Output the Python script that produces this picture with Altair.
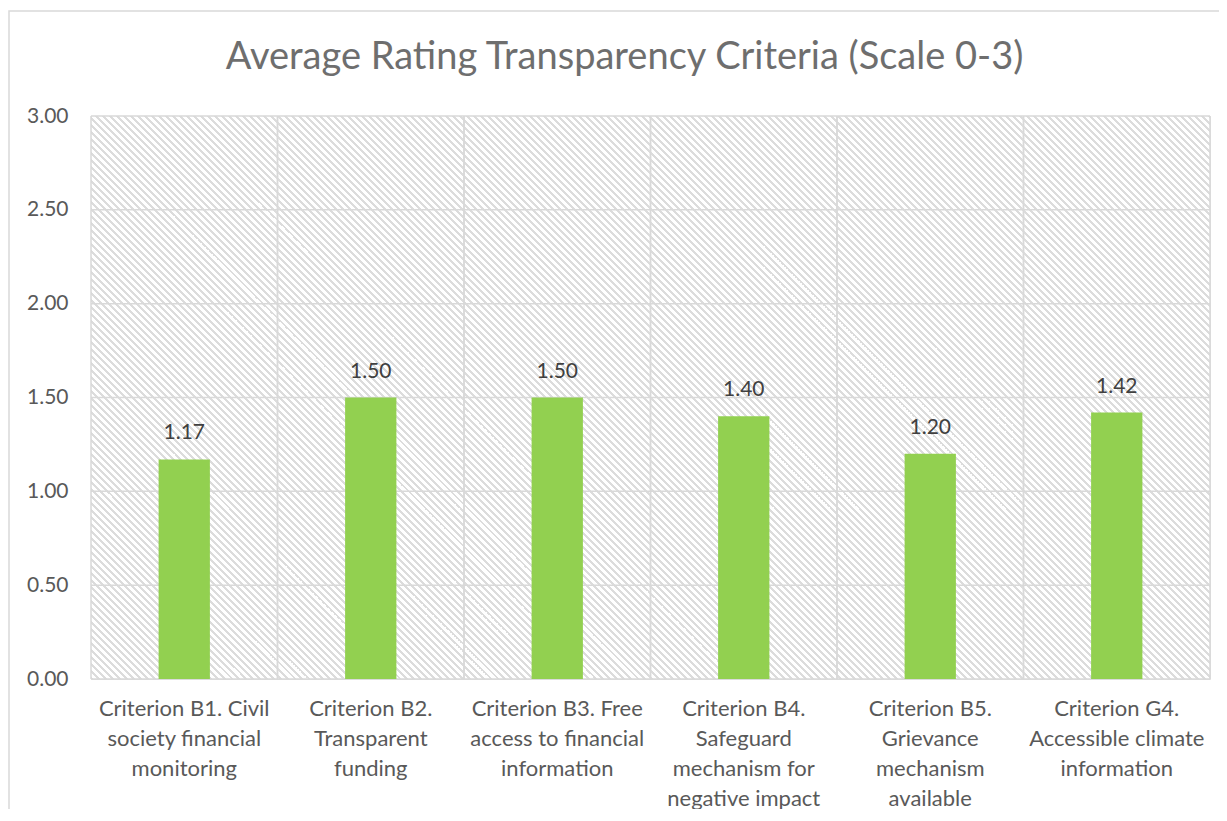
import math
import altair as alt
import pandas as pd

# ---------------- data ----------------
categories = [
    "Criterion B1. Civil\nsociety financial\nmonitoring",
    "Criterion B2.\nTransparent\nfunding",
    "Criterion B3. Free\naccess to financial\ninformation",
    "Criterion B4.\nSafeguard\nmechanism for\nnegative impact",
    "Criterion B5.\nGrievance\nmechanism\navailable",
    "Criterion G4.\nAccessible climate\ninformation",
]
values = [1.17, 1.50, 1.50, 1.40, 1.20, 1.42]
value_labels = ["1.17", "1.50", "1.50", "1.40", "1.20", "1.42"]
y_ticks = [0.0, 0.5, 1.0, 1.5, 2.0, 2.5, 3.0]
title_text = "Average Rating Transparency Criteria (Scale 0-3)"

df = pd.DataFrame({"category": categories, "value": values, "label": value_labels})
ticks_df = pd.DataFrame({"tick": y_ticks})
one_df = pd.DataFrame({"k": [0]})

# ---------------- layout ----------------
W, H = 1119, 563
PAD_L, PAD_T, PAD_R, PAD_B = 83, 108, 9, 130
FONT = "Lato"
GRID = "#d9d9d9"

# ---------------- hatch gradient (downward diagonal pattern) ----------------
r = H / W
k = (1 + r) / (1 + r * r)
L = (W + H) / math.sqrt(2)
period = 7 / math.sqrt(2)
lw = 1.5
HATCH = "#dcdcdc"
stops = []
n = int(L / period) + 1
for i in range(n):
    s = i * period / L
    e = (i * period + lw) / L
    if s >= 1:
        break
    e = min(e, 1.0)
    stops += [
        {"offset": s, "color": "#ffffff"},
        {"offset": s, "color": HATCH},
        {"offset": e, "color": HATCH},
        {"offset": e, "color": "#ffffff"},
    ]
hatch = {
    "gradient": "linear",
    "x1": 0, "y1": 1, "x2": k, "y2": 1 - k * r,
    "stops": stops,
}

x_scale = alt.Scale(domain=categories, paddingInner=0, paddingOuter=0)
y_scale = alt.Scale(domain=[0, 3], nice=False, zero=True)

background = alt.Chart(one_df).mark_rect(fill=hatch, strokeWidth=0).encode(
    x=alt.value(0), x2=alt.value("width"), y=alt.value(0), y2=alt.value("height")
)

hrules = alt.Chart(ticks_df).mark_rule(color=GRID, strokeWidth=1.5).encode(
    y=alt.Y("tick:Q", scale=y_scale)
)

x_axis = alt.Axis(
    title=None,
    labelAngle=0,
    labelExpr="split(datum.label, '\\n')",
    labelFont=FONT,
    labelFontSize=22,
    labelColor="#595959",
    labelLineHeight=30,
    labelPadding=19,
    labelBaseline="top",
    labelLimit=0,
    ticks=False,
    domain=False,
    grid=False,
)

vrules_left = alt.Chart(df).mark_rule(color=GRID, strokeWidth=1.5).encode(
    x=alt.X("category:N", sort=categories, scale=x_scale, bandPosition=0, axis=x_axis)
)
vrules_right = alt.Chart(df).mark_rule(color=GRID, strokeWidth=1.5).encode(
    x=alt.X("category:N", sort=categories, scale=x_scale, bandPosition=1)
)

y_axis = alt.Axis(
    title=None,
    values=y_ticks,
    format=".2f",
    labelFont=FONT,
    labelFontSize=21,
    labelColor="#595959",
    labelPadding=23,
    ticks=False,
    domain=False,
    grid=False,
)

bars = alt.Chart(df).mark_bar(
    color="#92D050", width=alt.RelativeBandSize(0.275)
).encode(
    x=alt.X("category:N", sort=categories, scale=x_scale),
    y=alt.Y("value:Q", scale=y_scale, axis=y_axis),
)

labels = alt.Chart(df).mark_text(
    font=FONT, fontSize=21, color="#404040", baseline="middle", dy=-26
).encode(
    x=alt.X("category:N", sort=categories, scale=x_scale),
    y=alt.Y("value:Q", scale=y_scale),
    text="label:N",
)

frame = alt.Chart(one_df).mark_rect(
    fill="transparent", stroke=GRID, strokeWidth=1.5
).encode(
    x=alt.value(-82), x2=alt.value(W + 40), y=alt.value(-105), y2=alt.value(H + 200)
)

chart = alt.layer(background, hrules, vrules_left, vrules_right, bars, labels, frame).properties(
    width=W,
    height=H,
    autosize=alt.AutoSizeParams(type="none"),
    padding={"left": PAD_L, "top": PAD_T, "right": PAD_R, "bottom": PAD_B},
    title=alt.TitleParams(
        text=title_text,
        font=FONT,
        fontSize=38,
        fontWeight="normal",
        color="#6e6e6e",
        anchor="middle",
        baseline="alphabetic",
        dx=-26,
        offset=-97,
    ),
).configure_view(stroke=None).configure(background="white")

chart.save("out.html", embed_options={"renderer": "svg", "actions": False})
